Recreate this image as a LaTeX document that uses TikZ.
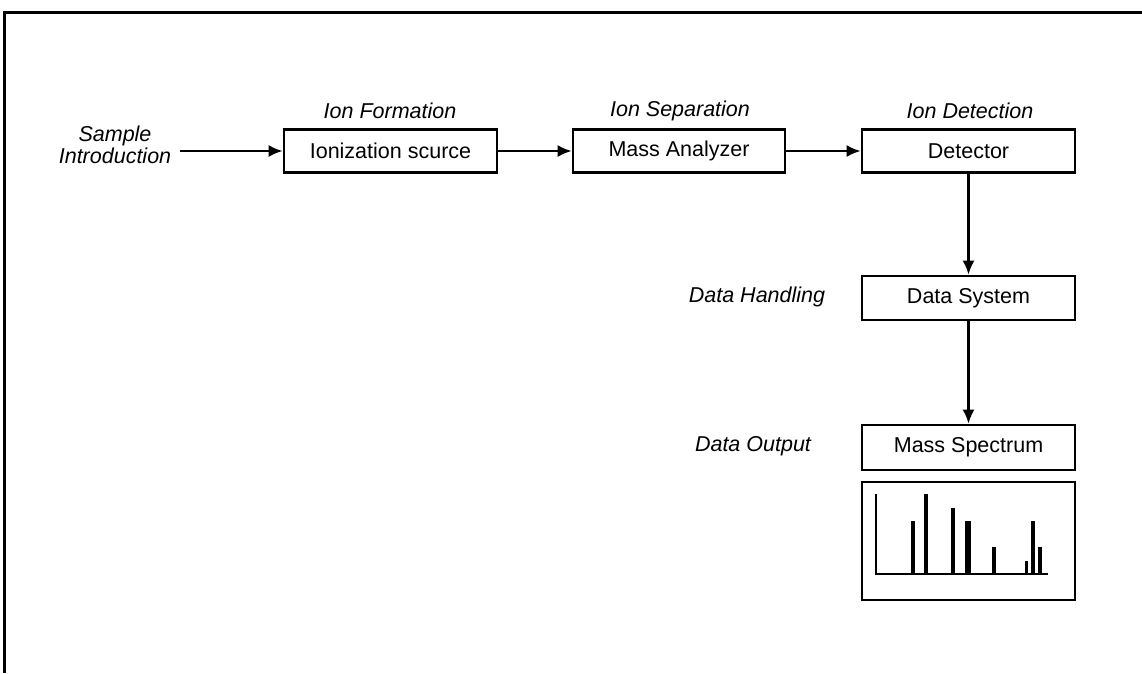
\documentclass[tikz,border=0pt]{standalone}
\usepackage{fontspec}
\setmainfont{Liberation Sans}
\usetikzlibrary{arrows.meta}
\begin{document}
\begin{tikzpicture}[x=1pt,y=-1pt,
  box/.style={draw, line width=2.6pt, minimum width=213pt, minimum height=43pt, inner sep=0pt, font=\fontsize{21.5}{24}\selectfont},
  lab/.style={font=\fontsize{21.5}{22}\selectfont\itshape, inner sep=0pt},
  conn/.style={line width=2.3pt, -{Latex[length=14pt,width=12pt]}},
  frame/.style={line width=3pt},
  peak/.style={line width=4.5pt}]
\useasboundingbox (0,0) rectangle (1142,673);
% frame
\draw[frame] (4,673) -- (4,12) -- (1142,12);
% boxes
\node[box] (ion) at (390.5,151) {Ionization scurce};
\node[box, minimum width=212pt] (mass) at (679,151) {Mass Analyzer};
\node[box] (det) at (968.5,151) {Detector};
\node[box, minimum height=44pt] (ds) at (968.5,298) {Data System};
\node[box, minimum height=45pt] (ms) at (968.5,447.5) {Mass Spectrum};
\node[box, minimum height=118pt] (spec) at (968.5,541) {};
% labels
\node[lab] (lf) at (390,111) {Ion Formation};
\node[lab] (lsep) at (680,111) {Ion Separation};
\node[lab] (ldet) at (970,111) {Ion Detection};
\node[lab, align=center] (lsam) at (115,145) {Sample\\Introduction};
\node[lab] (ldh) at (757,297) {Data Handling};
\node[lab] (ldo) at (753,446) {Data Output};
% connectors
\coordinate (s0) at (180,151);
\draw[conn] (s0) -- (ion.west);
\draw[conn] (ion.east) -- (mass.west);
\draw[conn] (mass.east) -- (det.west);
\draw[conn] (det.south) -- (ds.north);
\draw[conn] (ds.south) -- (ms.north);
% spectrum
\draw[line width=2.8pt] (876,494) -- (876,574) -- (1048,574);
\draw[peak] (913,574) -- (913,521);
\draw[peak] (926,574) -- (926,494);
\draw[peak] (953,574) -- (953,508);
\draw[line width=6pt] (968,574) -- (968,521);
\draw[peak] (994,574) -- (994,547);
\draw[line width=3pt] (1026,574) -- (1026,561);
\draw[peak] (1033,574) -- (1033,521);
\draw[peak] (1040,574) -- (1040,547);
\end{tikzpicture}
\end{document}
